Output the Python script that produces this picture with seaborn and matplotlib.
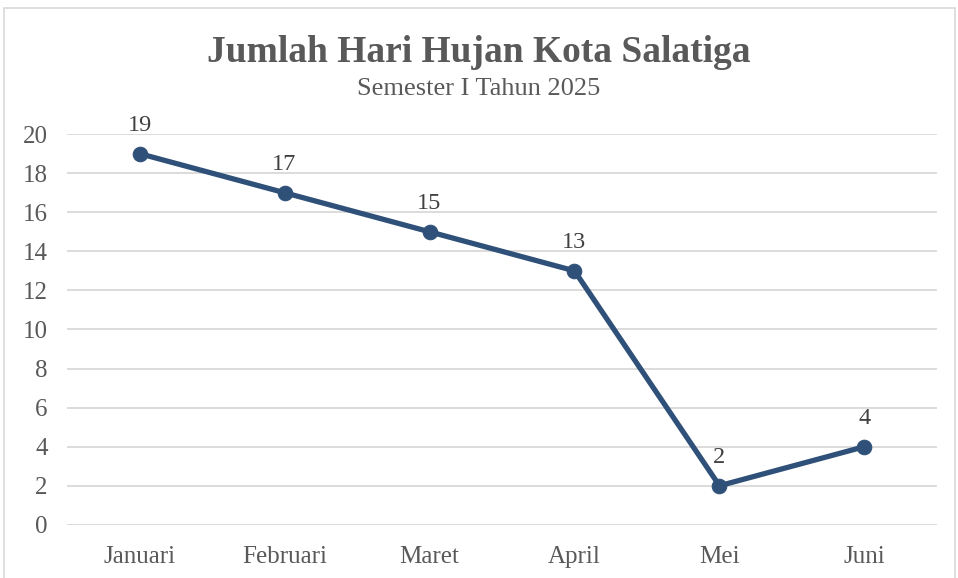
import matplotlib
matplotlib.use("Agg")
import matplotlib.pyplot as plt
import seaborn as sns
import pandas as pd
from matplotlib.patches import Rectangle

# data
bulan = ['Januari', 'Februari', 'Maret', 'April', 'Mei', 'Juni']
hari_hujan = [19, 17, 15, 13, 2, 4]
y_ticks = [0, 2, 4, 6, 8, 10, 12, 14, 16, 18, 20]

df = pd.DataFrame({'bulan': bulan, 'hari': hari_hujan})

sns.set_style('white')
plt.rcParams['font.family'] = ['Liberation Serif', 'DejaVu Serif']

garis = '#2F5078'
teks = '#595959'

fig = plt.figure(figsize=(9.58, 5.78), dpi=100)
ax = fig.add_axes([0.070, 0.092, 0.908, 0.676])

sns.lineplot(data=df, x='bulan', y='hari', ax=ax, color=garis, linewidth=3.8,
             marker='o', markersize=10.5, markeredgecolor=garis, sort=False)

# label nilai di atas titik
for i, v in enumerate(hari_hujan):
    ax.annotate(str(v), (i, v), xytext=(0, 13), textcoords='offset points',
                ha='center', va='bottom', fontsize=17.5, color='#404040')

ax.set_xlim(-0.5, len(bulan) - 0.5)
ax.set_ylim(0, 20)
ax.set_yticks(y_ticks)
ax.yaxis.grid(True, color='#D9D9D9', linewidth=1.3)
ax.set_axisbelow(True)
for s in ax.spines.values():
    s.set_visible(False)
ax.tick_params(axis='both', length=0, labelsize=18, colors=teks)
ax.tick_params(axis='y', pad=14)
ax.tick_params(axis='x', pad=15)
ax.set_xlabel('')
ax.set_ylabel('')

fig.text(0.5, 0.910, 'Jumlah Hari Hujan Kota Salatiga', ha='center', va='center',
         fontsize=27, fontweight='bold', color=teks)
fig.text(0.5, 0.846, 'Semester I Tahun 2025', ha='center', va='center',
         fontsize=19, color=teks)

# bingkai chart
fig.patches.append(Rectangle((0.004, -0.02), 0.993, 1.006, transform=fig.transFigure,
                             fill=False, edgecolor='#D9D9D9', linewidth=1.2))

fig.savefig('out.png', dpi=100)
